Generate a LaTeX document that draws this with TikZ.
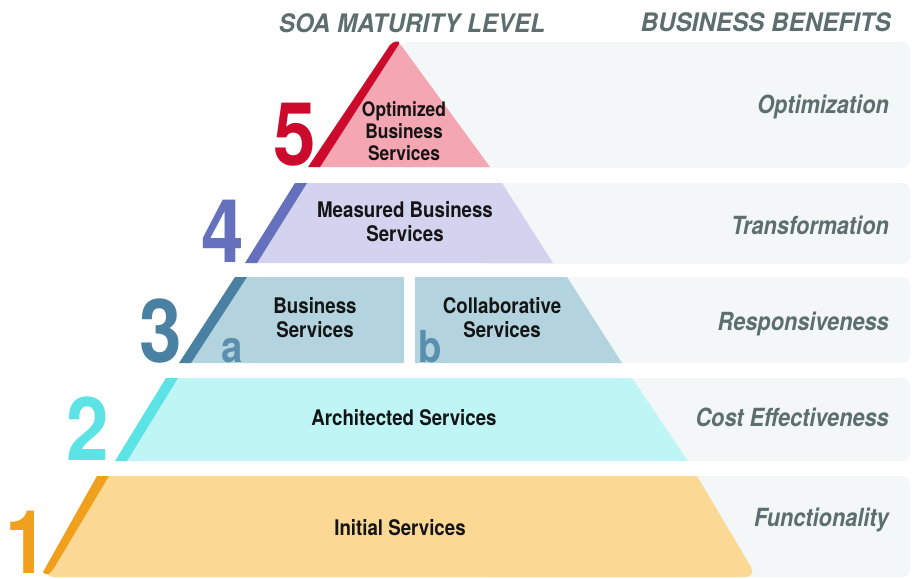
\documentclass[tikz,border=0pt]{standalone}
\usepackage{fontspec}
\setmainfont{TeX Gyre Heros}
\newfontfamily\pyr[FakeStretch=0.87]{TeX Gyre Heros}
\newfontfamily\hdr[FakeStretch=0.95]{TeX Gyre Heros}
\definecolor{band}{HTML}{F3F7F8}
\definecolor{gtext}{HTML}{5D6E6E}
\definecolor{fA}{HTML}{FBD894}\definecolor{dA}{HTML}{F0A01C}
\definecolor{fB}{HTML}{BFF5F5}\definecolor{dB}{HTML}{5CE3E6}
\definecolor{fC}{HTML}{B3D4DE}\definecolor{dC}{HTML}{4A80A2}\definecolor{lC}{HTML}{5B8FB0}
\definecolor{fD}{HTML}{D4D3EF}\definecolor{dD}{HTML}{6671BD}
\definecolor{fE}{HTML}{F4A6B2}\definecolor{dE}{HTML}{CC0B2C}
\tikzset{
  bandbox/.style={fill=band, rounded corners=8},
  num/.style={font=\pyr\bfseries\fontsize{88}{88}\selectfont, inner sep=0pt, anchor=base},
  letter/.style={font=\pyr\bfseries\fontsize{44}{44}\selectfont, inner sep=0pt, anchor=base, text=lC},
  lbl/.style={font=\pyr\bfseries\fontsize{21.5}{24}\selectfont, align=center, text=black!92, inner sep=0pt},
  ben/.style={font=\pyr\bfseries\itshape\fontsize{25}{25}\selectfont, text=gtext, inner sep=0pt, anchor=base east},
  hd/.style={font=\hdr\bfseries\itshape\fontsize{25.5}{26}\selectfont, text=gtext, inner sep=0pt, anchor=base}
}
\begin{document}
\begin{tikzpicture}[x=1pt,y=-1pt]
\useasboundingbox (0,0) rectangle (912,578);
% background bands
\fill[bandbox] (400,42) rectangle (910,168);
\fill[bandbox] (480,183) rectangle (910,264);
\fill[bandbox] (480,277) rectangle (910,363);
\fill[bandbox] (480,378) rectangle (910,461);
\fill[bandbox] (480,476) rectangle (910,577);
% level 1
\fill[fA] (104,476) -- (697,476) [rounded corners=12] -- (757,577) -- (42,577) [sharp corners] -- cycle;
\fill[dA] (97,476) -- (109,476) -- (54,568) [rounded corners=6] -- (47,577) [sharp corners] -- (43,572) -- cycle;
% level 2
\fill[fB] (172,378) -- (632,378) -- (688,461) -- (121,461) -- cycle;
\fill[dB] (166,378) -- (178,378) -- (127,461) -- (115,461) -- cycle;
% level 3
\fill[fC] (241,277) -- (404,277) -- (404,363) -- (185,363) -- cycle;
\fill[fC] (415,277) -- (567,277) -- (622,363) -- (415,363) -- cycle;
\fill[dC] (235,277) -- (247,277) -- (191,363) -- (179,363) -- cycle;
% level 4
\fill[fD] (301,183) -- (502,183) -- (553,263) -- (251,263) -- cycle;
\fill[dD] (295,183) -- (307,183) -- (257,263) -- (245,263) -- cycle;
% level 5
\fill[fE] (314,167) [rounded corners=5] -- (398,41) [sharp corners] -- (490,167) -- cycle;
\fill[dE] (308,167) [rounded corners=4] -- (392,42) -- (401,41) [sharp corners] -- (320,167) -- cycle;
% numbers
\node[num, text=dE] (n5) at (295,165) {5};
\node[num, text=dD] (n4) at (223,262) {4};
\node[num, text=dC] (n3) at (161,362) {3};
\node[num, text=dB] (n2) at (88,460) {2};
\node[num, text=dA] (n1) at (27,573) {1};
\node[letter] (la) at (232,362) {a};
\node[letter] (lb) at (430,362) {b};
% pyramid labels
\node[lbl, font=\pyr\bfseries\fontsize{20}{22}\selectfont] (t5) at (404,131) {Optimized\\Business\\Services};
\node[lbl] (t4) at (405,222) {Measured Business\\Services};
\node[lbl] (t3a) at (315,318) {Business\\Services};
\node[lbl] (t3b) at (502,318) {Collaborative\\Services};
\node[lbl] (t2) at (404,418) {Architected Services};
\node[lbl] (t1) at (400,528) {Initial Services};
% headers
\node[hd] (h1) at (412,33) {SOA MATURITY LEVEL};
\node[hd, anchor=base east] (h2) at (891,32) {BUSINESS BENEFITS};
% benefits
\node[ben] (b5) at (889,113) {Optimization};
\node[ben] (b4) at (889,234) {Transformation};
\node[ben] (b3) at (889,330) {Responsiveness};
\node[ben] (b2) at (889,426) {Cost Effectiveness};
\node[ben] (b1) at (889,526) {Functionality};
\end{tikzpicture}
\end{document}
